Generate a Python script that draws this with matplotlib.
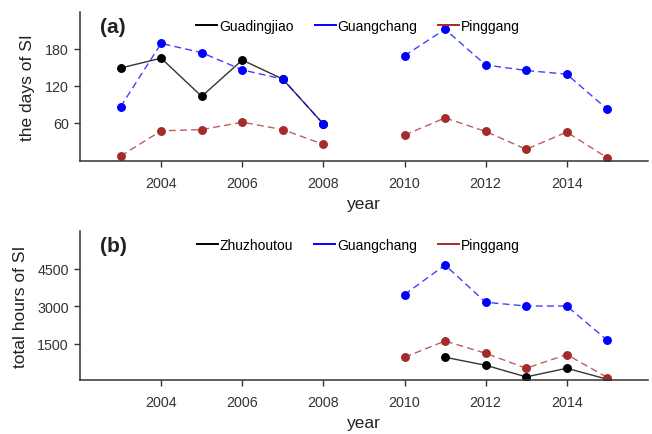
import numpy as np
import matplotlib.pyplot as plt
from matplotlib.lines import Line2D

plt.rcParams['font.family'] = ['Liberation Sans', 'DejaVu Sans']

# (a) days of SI per year, 2009 missing
years_a = [2003, 2004, 2005, 2006, 2007, 2008, 2009, 2010, 2011, 2012, 2013, 2014, 2015]
guadingjiao_days = [149, 165, 103, 162, 131, 58, None, None, None, None, None, None, None]
guangchang_days = [86, 189, 174, 146, 131, 58, None, 169, 212, 154, 145, 139, 82]
pinggang_days = [6, 47, 49, 61, 49, 25, None, 40, 68, 46, 17, 45, 3]

# (b) total hours of SI
years_b = [2010, 2011, 2012, 2013, 2014, 2015]
zhuzhoutou_hours = [None, 950, 630, 165, 510, 70]
guangchang_hours = [3460, 4640, 3150, 3000, 3000, 1630]
pinggang_hours = [950, 1600, 1110, 510, 1060, 140]

BLUE = '#0000FF'
BROWN = '#A52A2A'
AXIS = '#333333'
MS = 5.4


def arr(v):
    return np.array([np.nan if x is None else x for x in v], dtype=float)


def style_axes(ax, ylabel, yticks, ylim):
    ax.set_xlim(2002, 2016)
    ax.set_ylim(*ylim)
    ax.set_xticks([2004, 2006, 2008, 2010, 2012, 2014])
    ax.set_yticks(yticks)
    for s in ['top', 'right']:
        ax.spines[s].set_visible(False)
    for s in ['left', 'bottom']:
        ax.spines[s].set_color(AXIS)
        ax.spines[s].set_linewidth(1.1)
    ax.tick_params(axis='both', colors=AXIS, labelcolor='#333333',
                   labelsize=10.3, length=4, width=1.0)
    ax.tick_params(axis='x', pad=7)
    ax.tick_params(axis='y', pad=4)
    ax.set_xlabel('year', fontsize=12.5, color='#222222', labelpad=4)
    ax.set_ylabel(ylabel, fontsize=12.5, color='#222222', labelpad=7)


def add_legend(ax, names):
    handles = [Line2D([], [], color=c, lw=1.4) for c in ['black', BLUE, BROWN]]
    ax.legend(handles, names, loc='center', bbox_to_anchor=(0.49, 0.905),
              ncol=3, frameon=False, fontsize=10, handlelength=1.5,
              handletextpad=0.15, columnspacing=1.5)


def plot_series(ax, x, y, color, style):
    if style == '-':
        ax.plot(x, y, '-', color=color, lw=1.0, alpha=0.8)
    else:
        ax.plot(x, y, '--', color=color, lw=1.0, alpha=0.75, dashes=(5, 3))
    ax.plot(x, y, 'o', color=color, ms=MS)


fig = plt.figure(figsize=(6.52, 4.35), dpi=100)
ax_a = fig.add_axes([0.1227, 0.6276, 0.871, 0.3425])
ax_b = fig.add_axes([0.1227, 0.1241, 0.871, 0.3425])

x = np.array(years_a)
plot_series(ax_a, x, arr(guadingjiao_days), 'black', '-')
plot_series(ax_a, x, arr(guangchang_days), BLUE, '--')
plot_series(ax_a, x, arr(pinggang_days), BROWN, '--')
style_axes(ax_a, 'the days of SI', [60, 120, 180], (-2, 240))
add_legend(ax_a, ['Guadingjiao', 'Guangchang', 'Pinggang'])
ax_a.text(0.035, 0.9, '(a)', transform=ax_a.transAxes, fontsize=15,
          fontweight='bold', va='center', ha='left', color='#222222')

xb = np.array(years_b)
plot_series(ax_b, xb, arr(zhuzhoutou_hours), 'black', '-')
plot_series(ax_b, xb, arr(guangchang_hours), BLUE, '--')
plot_series(ax_b, xb, arr(pinggang_hours), BROWN, '--')
style_axes(ax_b, 'total hours of SI', [1500, 3000, 4500], (40, 6000))
add_legend(ax_b, ['Zhuzhoutou', 'Guangchang', 'Pinggang'])
ax_b.text(0.035, 0.9, '(b)', transform=ax_b.transAxes, fontsize=15,
          fontweight='bold', va='center', ha='left', color='#222222')

fig.savefig('out.png', dpi=100)
